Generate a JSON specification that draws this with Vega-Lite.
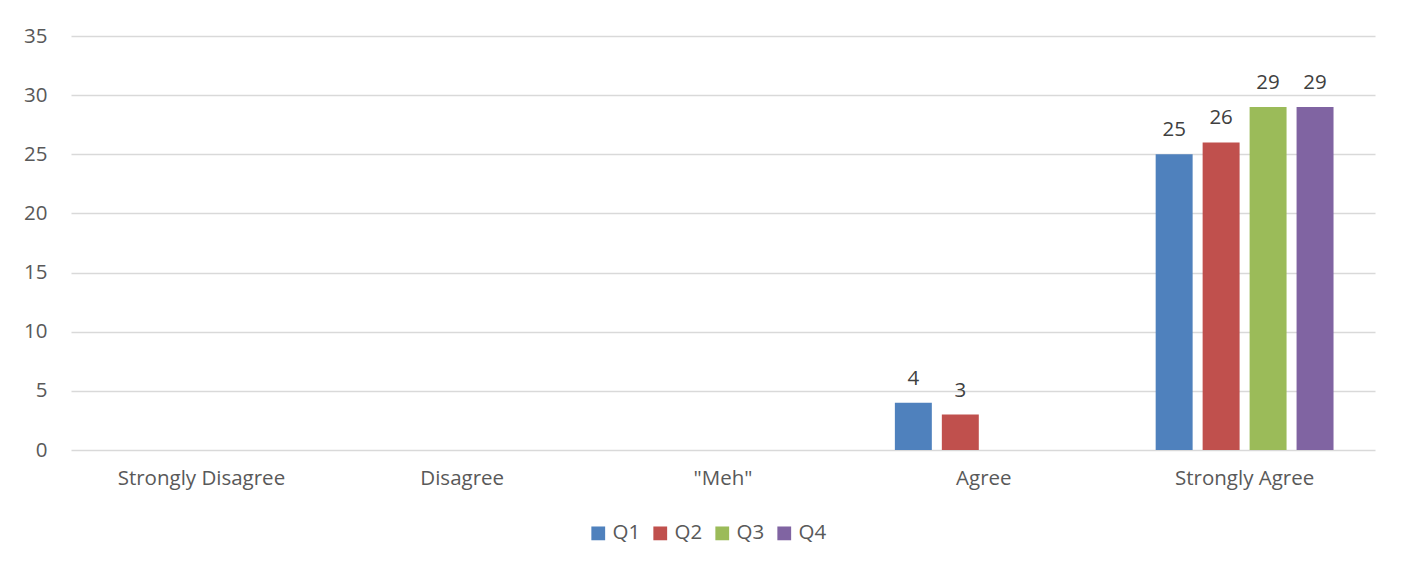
{
  "$schema": "https://vega.github.io/schema/vega-lite/v6.json",
  "autosize": {"type": "none"},
  "width": 1304,
  "height": 414,
  "padding": {"left": 71, "top": 36, "right": 29, "bottom": 117},
  "background": "white",
  "config": {
    "view": {"stroke": null},
    "font": "Open Sans",
    "axis": {"labelFont": "Open Sans", "labelColor": "#595959", "labelFontSize": 20.5}
  },
  "data": {
    "values": [
      {"response": "Strongly Disagree", "q": "Q1", "count": 0},
      {"response": "Strongly Disagree", "q": "Q2", "count": 0},
      {"response": "Strongly Disagree", "q": "Q3", "count": 0},
      {"response": "Strongly Disagree", "q": "Q4", "count": 0},
      {"response": "Disagree", "q": "Q1", "count": 0},
      {"response": "Disagree", "q": "Q2", "count": 0},
      {"response": "Disagree", "q": "Q3", "count": 0},
      {"response": "Disagree", "q": "Q4", "count": 0},
      {"response": "\"Meh\"", "q": "Q1", "count": 0},
      {"response": "\"Meh\"", "q": "Q2", "count": 0},
      {"response": "\"Meh\"", "q": "Q3", "count": 0},
      {"response": "\"Meh\"", "q": "Q4", "count": 0},
      {"response": "Agree", "q": "Q1", "count": 4},
      {"response": "Agree", "q": "Q2", "count": 3},
      {"response": "Agree", "q": "Q3", "count": 0},
      {"response": "Agree", "q": "Q4", "count": 0},
      {"response": "Strongly Agree", "q": "Q1", "count": 25},
      {"response": "Strongly Agree", "q": "Q2", "count": 26},
      {"response": "Strongly Agree", "q": "Q3", "count": 29},
      {"response": "Strongly Agree", "q": "Q4", "count": 29}
    ]
  },
  "encoding": {
    "x": {
      "field": "response", "type": "nominal", "sort": null,
      "scale": {"paddingInner": 0, "paddingOuter": 0},
      "axis": {"title": null, "labelAngle": 0, "ticks": false, "domain": false, "labelPadding": 18, "grid": false}
    },
    "xOffset": {
      "field": "q", "type": "nominal",
      "scale": {"paddingInner": 0.213, "paddingOuter": 0.883}
    },
    "y": {
      "field": "count", "type": "quantitative",
      "scale": {"domain": [0, 35], "nice": false},
      "axis": {"title": null, "values": [0, 5, 10, 15, 20, 25, 30, 35], "ticks": false, "domain": false, "labelPadding": 24, "gridColor": "#D9D9D9", "gridWidth": 1.3}
    }
  },
  "layer": [
    {
      "mark": {"type": "bar"},
      "encoding": {
        "color": {
          "field": "q", "type": "nominal",
          "scale": {"domain": ["Q1", "Q2", "Q3", "Q4"], "range": ["#4F81BD", "#C0504D", "#9BBB59", "#8064A2"]},
          "legend": {
            "title": null, "orient": "none", "direction": "horizontal",
            "legendX": 517, "legendY": 487,
            "symbolType": "square", "symbolSize": 190, "symbolStrokeWidth": 0,
            "labelFont": "Open Sans", "labelFontSize": 20.5, "labelColor": "#595959",
            "columnPadding": 9, "labelOffset": 4
          }
        }
      }
    },
    {
      "transform": [{"filter": "datum.count > 0"}],
      "mark": {"type": "text", "baseline": "bottom", "dy": -14, "font": "Open Sans", "fontSize": 20.5, "color": "#404040"},
      "encoding": {
        "text": {"field": "count", "type": "quantitative"}
      }
    }
  ]
}
